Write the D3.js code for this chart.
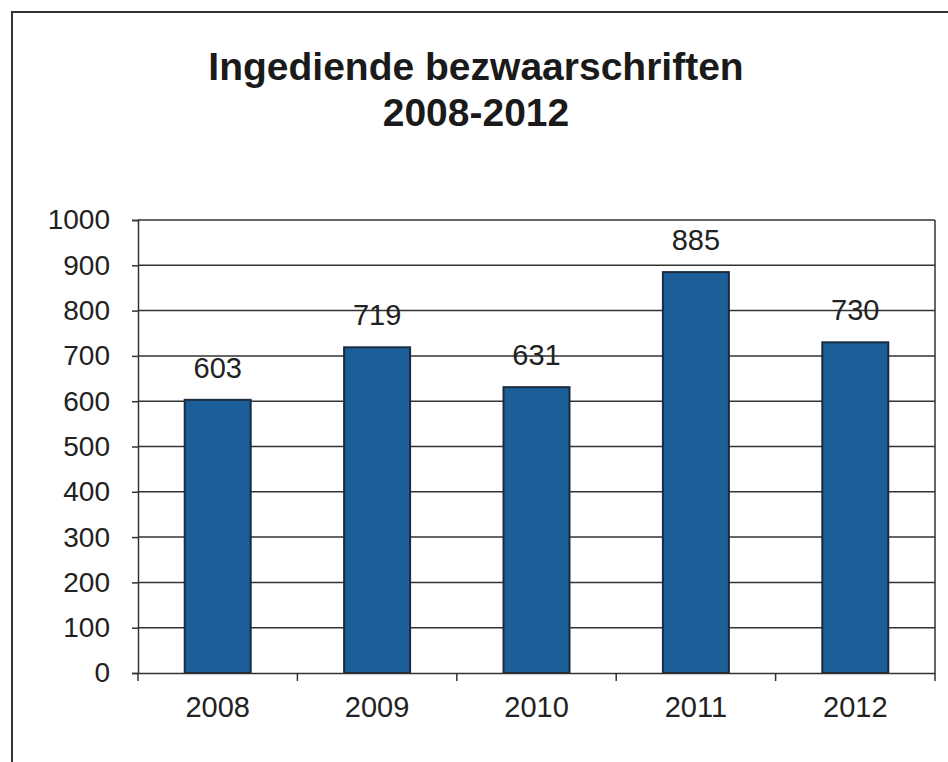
<!DOCTYPE html>
<html><head><meta charset="utf-8">
<script src="https://cdn.jsdelivr.net/npm/d3@7"></script>
<style>body{margin:0;background:#fff}svg{display:block}</style>
</head><body>
<svg id="c" width="948" height="762"></svg>
<script>
const categories = ["2008","2009","2010","2011","2012"];
const values = [603, 719, 631, 885, 730];
const yTicks = [0,100,200,300,400,500,600,700,800,900,1000];
const titleLines = ["Ingediende bezwaarschriften","2008-2012"];

const svg = d3.select("#c");
const font = "'Liberation Sans', Arial, sans-serif";
const m = {left:138, right:935, top:220, bottom:673};

// frame
svg.append("path").attr("d","M12,762 L12,12 L948,12").attr("fill","none").attr("stroke","#333").attr("stroke-width",2);

const x = d3.scaleBand().domain(categories).range([m.left,m.right]).paddingInner(0.586).paddingOuter(0.293);
const xb = d3.scaleBand().domain(categories).range([m.left,m.right]);
const y = d3.scaleLinear().domain([0,1000]).range([m.bottom,m.top]);

// gridlines
svg.append("g").selectAll("line").data(yTicks.filter(d=>d>0)).join("line")
  .attr("x1",m.left).attr("x2",m.right).attr("y1",d=>y(d)).attr("y2",d=>y(d))
  .attr("stroke","#333").attr("stroke-width",1.5);
// right border
svg.append("line").attr("x1",m.right).attr("x2",m.right).attr("y1",m.top).attr("y2",m.bottom)
  .attr("stroke","#333").attr("stroke-width",1.5);

// bars
svg.append("g").selectAll("rect").data(values).join("rect")
  .attr("x",(d,i)=>x(categories[i])).attr("width",x.bandwidth())
  .attr("y",d=>y(d)).attr("height",d=>y(0)-y(d))
  .attr("fill","#1b5e98").attr("stroke","#1a2c3e").attr("stroke-width",2);

// y axis
const yAxis = svg.append("g").attr("transform",`translate(${m.left},0)`)
  .call(d3.axisLeft(y).tickValues(yTicks).tickSize(6).tickPadding(22).tickFormat(d3.format("d")));
yAxis.select(".domain").attr("stroke","#333").attr("stroke-width",1.5);
yAxis.selectAll(".tick line").attr("stroke","#333").attr("stroke-width",1.5);
yAxis.selectAll("text").attr("font-family",font).attr("font-size",28).attr("fill","#222");

// x axis
const xAxis = svg.append("g").attr("transform",`translate(0,${m.bottom})`)
  .call(d3.axisBottom(xb).tickSize(0).tickPadding(23));
xAxis.select(".domain").attr("stroke","#333").attr("stroke-width",1.5);
xAxis.selectAll("text").attr("font-family",font).attr("font-size",29).attr("fill","#222");
// category boundary ticks
svg.append("g").selectAll("line").data(categories.concat(["end"])).join("line")
  .attr("x1",(d,i)=> i<categories.length ? xb(d) : m.right)
  .attr("x2",(d,i)=> i<categories.length ? xb(d) : m.right)
  .attr("y1",m.bottom).attr("y2",m.bottom+8).attr("stroke","#333").attr("stroke-width",1.5);

// data labels
svg.append("g").selectAll("text").data(values).join("text")
  .attr("x",(d,i)=>x(categories[i])+x.bandwidth()/2).attr("y",d=>y(d)-22)
  .attr("text-anchor","middle").attr("font-family",font).attr("font-size",29).attr("fill","#222")
  .text(d=>d);

// title
svg.append("g").selectAll("text").data(titleLines).join("text")
  .attr("x",476).attr("y",(d,i)=>80+i*46)
  .attr("text-anchor","middle").attr("font-family",font).attr("font-weight","bold")
  .attr("font-size",39).attr("fill","#1a1a1a")
  .text(d=>d);
</script>
</body></html>
